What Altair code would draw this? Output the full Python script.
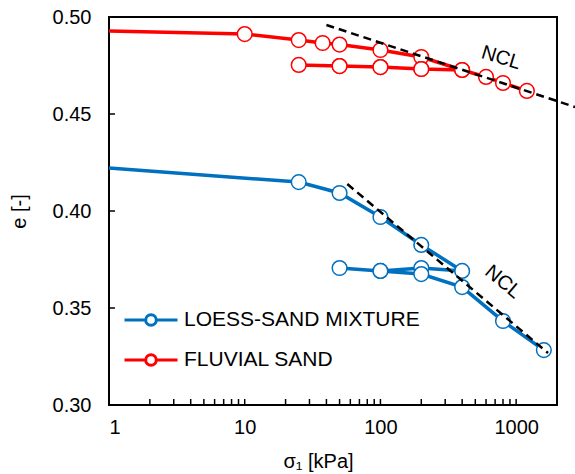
import altair as alt
import pandas as pd

# Oedometer compression curves: vertical stress sigma_1 [kPa] vs void ratio e [-]
loess_sigma = [1, 25, 50, 100, 200, 400, 200, 100, 50, 100, 200, 400, 800, 1600]
loess_e = [0.4222, 0.4149, 0.4093, 0.3969, 0.3825, 0.3691, 0.3706, 0.3691,
           0.3706, 0.3691, 0.3675, 0.3608, 0.3433, 0.3283]

fluvial_sigma = [1, 10, 25, 37.5, 50, 100, 200, 400, 200, 100, 50, 25,
                 50, 100, 200, 400, 600, 800, 1200]
fluvial_e = [0.4928, 0.4912, 0.4881, 0.4866, 0.4858, 0.4830, 0.4794, 0.4727,
             0.4732, 0.4742, 0.4747, 0.4753, 0.4747, 0.4742, 0.4732, 0.4727,
             0.4691, 0.4660, 0.4619]

# Normal compression lines (end points)
ncl_loess_sigma = [57, 1718]
ncl_loess_e = [0.4139, 0.3268]
ncl_fluvial_sigma = [40, 2716]
ncl_fluvial_e = [0.4959, 0.4536]

# NCL label positions and angles
ncl_label_sigma = [774, 800]
ncl_label_e = [0.4789, 0.3634]
ncl_label_angle = [17, 40]

series_names = ["LOESS-SAND MIXTURE", "FLUVIAL SAND"]
series_colors = ["#0070C0", "#FF0000"]

x_ticks = [1, 10, 100, 1000]
x_minor = [m * d for d in (1, 10, 100) for m in range(2, 11)]
y_ticks = [0.30, 0.35, 0.40, 0.45, 0.50]

FONT = "Liberation Sans"
W, H = 448, 388

rows = []
for name, xs, ys in ((series_names[0], loess_sigma, loess_e),
                     (series_names[1], fluvial_sigma, fluvial_e)):
    for i, (s, e) in enumerate(zip(xs, ys)):
        rows.append({"series": name, "sigma": s, "e": e, "idx": i, "marker": s != 1})
curves = pd.DataFrame(rows)

ncl = pd.DataFrame({
    "line": ["L"] * 2 + ["F"] * 2,
    "sigma": ncl_loess_sigma + ncl_fluvial_sigma,
    "e": ncl_loess_e + ncl_fluvial_e,
})
labels = pd.DataFrame({"sigma": ncl_label_sigma, "e": ncl_label_e,
                       "angle": ncl_label_angle, "text": ["NCL", "NCL"]})

xscale = alt.Scale(type="log", domain=[1, 2000], nice=False)
yscale = alt.Scale(domain=[0.30, 0.50], nice=False, zero=False)
cscale = alt.Scale(domain=series_names, range=series_colors)

x_axis = alt.Axis(values=x_ticks, format="d", ticks=False, domain=False, grid=False,
                  labelPadding=12, title="σ₁ [kPa]", titlePadding=14,
                  titleX=209, titleAlign="center")
y_axis = alt.Axis(values=y_ticks, format=".2f", ticks=False, domain=False, grid=False,
                  labelPadding=18, title="e [-]", titlePadding=23)

legend_symbol = ("M-1,0L-0.2,0M0.2,0L1,0M-0.2,0A0.2,0.2,0,1,1,0.2,0"
                 "A0.2,0.2,0,1,1,-0.2,0")

base = alt.Chart(curves)

lines = base.mark_line(strokeWidth=3.5).encode(
    x=alt.X("sigma:Q", scale=xscale, axis=x_axis),
    y=alt.Y("e:Q", scale=yscale, axis=y_axis),
    color=alt.Color("series:N", scale=cscale, sort=series_names,
                    legend=alt.Legend(title=None, orient="none", legendX=14, legendY=275,
                                      symbolType=legend_symbol, symbolSize=2809,
                                      symbolFillColor="white", symbolStrokeWidth=3,
                                      labelFontSize=21, labelFont=FONT, labelColor="black",
                                      labelLimit=0, labelOffset=5, rowPadding=-17)),
    order="idx:Q",
    detail="series:N",
)

points = base.transform_filter("datum.marker").mark_point(
    shape="circle", size=215, filled=False, fill="white", fillOpacity=1, strokeWidth=1.5, opacity=1
).encode(
    x="sigma:Q",
    y="e:Q",
    color=alt.Color("series:N", scale=cscale, legend=None),
)

ncl_lines = alt.Chart(ncl).mark_line(color="black", strokeWidth=2.5, strokeDash=[8, 5],
                                     clip=False).encode(
    x="sigma:Q", y="e:Q", detail="line:N"
)

ncl_text = alt.Chart(labels).mark_text(font=FONT, fontSize=20, color="black").encode(
    x="sigma:Q", y="e:Q", text="text:N", angle=alt.Angle("angle:Q", scale=None)
)

# inward-pointing tick marks on the bottom and left axes
xt = pd.DataFrame({"sigma": x_minor})
x_tick_marks = alt.Chart(xt).mark_rule(color="black", strokeWidth=1.5).encode(
    x="sigma:Q", y=alt.value(H), y2=alt.value(H - 6)
)
yt = pd.DataFrame({"e": y_ticks[1:-1]})
y_tick_marks = alt.Chart(yt).mark_rule(color="black", strokeWidth=1.5).encode(
    y="e:Q", x=alt.value(0), x2=alt.value(6)
)

chart = alt.layer(lines, points, ncl_lines, ncl_text, x_tick_marks, y_tick_marks).properties(
    width=W, height=H,
    background="white",
    autosize=alt.AutoSizeParams(type="none"),
    padding={"left": 109, "top": 17, "right": 18, "bottom": 69},
).configure_view(
    stroke="black", strokeWidth=2
).configure_axis(
    labelFont=FONT, titleFont=FONT, labelFontSize=20, titleFontSize=20,
    titleFontWeight="normal", labelColor="black", titleColor="black"
)

chart.save("out.html", embed_options={"renderer": "svg", "actions": False})
